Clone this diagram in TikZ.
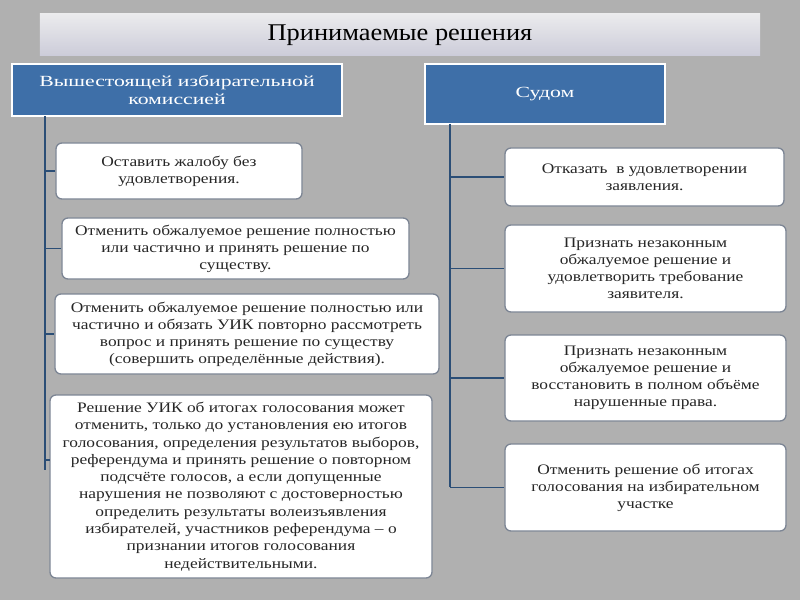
\documentclass[tikz,border=0pt]{standalone}
\usepackage{fontspec}
\setmainfont{Liberation Serif}
\newfontfamily\wideA[FakeStretch=1.2]{Liberation Serif}
\newfontfamily\wideB[FakeStretch=1.4]{Liberation Serif}
\newfontfamily\wideC[FakeStretch=1.1]{Liberation Serif}
\definecolor{hb}{HTML}{3E6FA8}
\definecolor{bd}{HTML}{7C8594}
\begin{document}
\begin{tikzpicture}[x=1bp,y=-1bp,
 box/.style={draw=bd,fill=white,rounded corners=6bp,line width=1.3bp,align=center,inner sep=2bp,text=black!85,font=\wideA\fontsize{14.5bp}{17bp}\selectfont},
 head/.style={draw=white,line width=1.8bp,fill=hb,text=white,align=center,font=\wideB\fontsize{15.5bp}{18bp}\selectfont},
 conn/.style={draw=hb!70!black,line width=1.2bp}]
\fill[gray!62] (0,0) rectangle (800,600);
\useasboundingbox (0,0) rectangle (800,600);
\node[top color=blue!5!gray!15,bottom color=blue!15!gray!35,minimum width=720bp,minimum height=42bp,font=\wideC\fontsize{24bp}{26bp}\selectfont] (title) at (400,35) {Принимаемые решения};
\node[head,minimum width=330bp,minimum height=52bp] (L) at (177,90) {Вышестоящей избирательной\\комиссией};
\node[head,minimum width=240bp,minimum height=60bp] (R) at (545,94) {Судом};
\node[box,minimum width=246bp,minimum height=56bp] (l1) at (179,171) {Оставить жалобу без\\удовлетворения.};
\node[box,minimum width=347bp,minimum height=61bp] (l2) at (235.5,248.5) {Отменить обжалуемое решение полностью\\или частично и принять решение по\\существу.};
\node[box,minimum width=384bp,minimum height=80bp] (l3) at (247,334) {Отменить обжалуемое решение полностью или\\частично и обязать УИК повторно рассмотреть\\вопрос и принять решение по существу\\(совершить определённые действия).};
\node[box,minimum width=382bp,minimum height=183bp,font=\wideA\fontsize{14.5bp}{17.3bp}\selectfont] (l4) at (241,486.5) {Решение УИК об итогах голосования может\\отменить, только до установления ею итогов\\голосования, определения результатов выборов,\\референдума и принять решение о повторном\\подсчёте голосов, а если допущенные\\нарушения не позволяют с достоверностью\\определить результаты волеизъявления\\избирателей, участников референдума – о\\признании итогов голосования\\недействительными.};
\node[box,minimum width=279bp,minimum height=58bp] (r1) at (644.5,177) {Отказать \ в удовлетворении\\заявления.};
\node[box,minimum width=281bp,minimum height=87bp] (r2) at (645.5,268.5) {Признать незаконным\\обжалуемое решение и\\удовлетворить требование\\заявителя.};
\node[box,minimum width=281bp,minimum height=86bp] (r3) at (645.5,378) {Признать незаконным\\обжалуемое решение и\\восстановить в полном объёме\\нарушенные права.};
\node[box,minimum width=281bp,minimum height=87bp] (r4) at (645.5,487.5) {Отменить решение об итогах\\голосования на избирательном\\участке};
\coordinate (lv) at (45,116); \coordinate (lb) at (45,470);
\coordinate (rv) at (450,124); \coordinate (rb) at (450,487);
\draw[conn] (lv) -- (lb);
\draw[conn] (rv) -- (rb);
\foreach \n in {l1,l2,l3} \draw[conn] (lv |- \n.west) -- (\n.west);
\draw[conn] (45,460) -- (50,460);
\foreach \n in {r1,r2,r3,r4} \draw[conn] (rv |- \n.west) -- (\n.west);
\end{tikzpicture}
\end{document}
